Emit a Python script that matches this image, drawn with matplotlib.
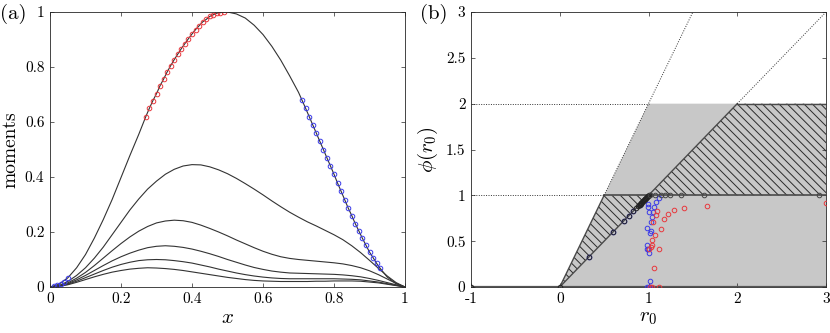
import numpy as np
import matplotlib
matplotlib.use("Agg")
import matplotlib.pyplot as plt
from matplotlib.patches import Polygon
from matplotlib.ticker import FuncFormatter

plt.rcParams['font.family'] = ['cmr10', 'DejaVu Serif']
plt.rcParams['mathtext.fontset'] = 'cm'
plt.rcParams['axes.formatter.use_mathtext'] = True
plt.rcParams['hatch.linewidth'] = 0.7

# ---- panel (a) data ----
red_x = np.round(np.arange(0.27, 0.495, 0.01), 2)
red_y = [0.62, 0.65, 0.678, 0.703, 0.732, 0.756, 0.782, 0.805, 0.827, 0.847, 0.867,
         0.885, 0.903, 0.92, 0.936, 0.95, 0.964, 0.973, 0.984, 0.99, 0.996, 0.998, 1.0]
blue_x = np.round(np.arange(0.71, 0.935, 0.01), 2)
blue_y = [0.679, 0.65, 0.62, 0.59, 0.56, 0.53, 0.50, 0.47, 0.44, 0.41, 0.378, 0.348,
          0.318, 0.287, 0.26, 0.23, 0.204, 0.177, 0.152, 0.127, 0.107, 0.086, 0.068]
blue0_x = [0.01, 0.02, 0.03, 0.04, 0.05]
blue0_y = [0.002, 0.006, 0.012, 0.02, 0.033]

top_left_x = [0, 0.025, 0.05, 0.075, 0.1, 0.125, 0.15, 0.175, 0.2, 0.225, 0.25]
top_left_y = [0, 0.01, 0.033, 0.07, 0.118, 0.178, 0.245, 0.318, 0.398, 0.478, 0.555]
top_mid_x = [0.5, 0.525, 0.55, 0.575, 0.6, 0.625, 0.65, 0.675, 0.7]
top_mid_y = [1.0, 0.993, 0.978, 0.952, 0.918, 0.875, 0.825, 0.768, 0.708]
top_end_x = [0.95, 0.975, 1.0]
top_end_y = [0.036, 0.012, 0.0]

xs = np.round(np.arange(0, 1.0001, 0.025), 3)
m2 = [0, 0.005, 0.02, 0.042, 0.07, 0.105, 0.145, 0.19, 0.235, 0.28, 0.32, 0.356, 0.385,
      0.41, 0.428, 0.44, 0.445, 0.444, 0.437, 0.426, 0.412, 0.395, 0.376, 0.356, 0.335,
      0.313, 0.292, 0.272, 0.254, 0.237, 0.222, 0.206, 0.19, 0.172, 0.15, 0.125, 0.097,
      0.068, 0.04, 0.016, 0]
m3 = [0, 0.004, 0.015, 0.032, 0.053, 0.078, 0.105, 0.132, 0.158, 0.182, 0.203, 0.22, 0.233,
      0.24, 0.243, 0.241, 0.235, 0.225, 0.213, 0.2, 0.186, 0.171, 0.157, 0.143, 0.13,
      0.119, 0.11, 0.104, 0.1, 0.097, 0.094, 0.091, 0.088, 0.084, 0.078, 0.07, 0.059,
      0.045, 0.029, 0.013, 0]
m4 = [0, 0.003, 0.012, 0.026, 0.042, 0.06, 0.078, 0.095, 0.11, 0.123, 0.134, 0.143, 0.148,
      0.15, 0.148, 0.144, 0.138, 0.13, 0.121, 0.111, 0.1, 0.09, 0.08, 0.071, 0.064,
      0.058, 0.054, 0.051, 0.05, 0.049, 0.048, 0.047, 0.046, 0.044, 0.041, 0.037, 0.031,
      0.024, 0.016, 0.008, 0]
m5 = [0, 0.003, 0.01, 0.021, 0.034, 0.047, 0.06, 0.072, 0.082, 0.09, 0.096, 0.099, 0.1,
      0.099, 0.096, 0.092, 0.087, 0.08, 0.073, 0.065, 0.058, 0.051, 0.045, 0.04, 0.036,
      0.033, 0.031, 0.03, 0.03, 0.03, 0.03, 0.03, 0.03, 0.029, 0.028, 0.026, 0.022,
      0.018, 0.012, 0.006, 0]
m6 = [0, 0.002, 0.008, 0.017, 0.027, 0.037, 0.046, 0.054, 0.06, 0.065, 0.068, 0.07, 0.069,
      0.067, 0.064, 0.06, 0.055, 0.05, 0.045, 0.04, 0.035, 0.031, 0.027, 0.024, 0.022,
      0.021, 0.02, 0.02, 0.02, 0.02, 0.021, 0.021, 0.022, 0.022, 0.022, 0.021, 0.018,
      0.015, 0.01, 0.005, 0]

# ---- panel (b) data ----
blk_x = [-1, 0, 0.33, 0.6, 0.72, 0.78, 0.83, 0.86, 0.88, 0.89, 0.9, 0.905, 0.91, 0.915,
         0.92, 0.925, 0.93, 0.935, 0.94, 0.945, 0.95, 0.955, 0.96, 0.965, 0.97, 0.975,
         0.98, 0.985, 0.99, 0.995, 1.0]
blk_y = [0, 0] + blk_x[2:]
blk1_x = [1.02, 1.07, 1.14, 1.19, 1.24, 1.37, 1.62, 2.92]
blk1_y = [1.0, 1.0, 1.0, 1.0, 1.0, 1.0, 1.0, 1.0]
bl_x = [0.33, 0.6, 0.72, 0.78, 0.83, 0.9, 1.115, 1.09, 1.065, 1.054, 1.043, 1.017, 1.028,
        0.998, 1.006, 0.99, 0.98, 1.028, 0.987, 0.998, 0.98, 1.01, 1.017, 0.98, 1.0, 1.02]
bl_y = [0.33, 0.6, 0.72, 0.78, 0.83, 0.9, 0.974, 0.93, 0.876, 0.82, 0.767, 0.585, 0.71,
        0.876, 0.82, 0.91, 0.647, 0.614, 0.46, 0.42, 0.41, 0.375, 0.07, 0.0, 0.0, 0.0]
rd_x = [2.996, 1.663, 1.4, 1.285, 1.215, 1.173, 1.095, 1.085, 1.054, 1.14, 1.07, 1.043,
        1.028, 1.01, 1.12, 1.062, 1.036, 1.017, 1.043, 1.118]
rd_y = [0.913, 0.887, 0.865, 0.84, 0.8, 0.74, 0.826, 0.785, 0.71, 0.637, 0.571, 0.513,
        0.433, 0.42, 0.418, 0.21, 0.458, 0.005, 0.005, 0.005]

fig = plt.figure(figsize=(8.3, 3.33), dpi=100)
axa = fig.add_axes([50/830, 1-287/333, 355/830, 275/333])
axb = fig.add_axes([471/830, 1-287/333, 355/830, 275/333])

lc = '#333333'
for m in [m2, m3, m4, m5, m6]:
    axa.plot(xs, m, color=lc, lw=0.8)
top_x = np.concatenate([top_left_x, red_x, top_mid_x, blue_x, top_end_x])
top_y = np.concatenate([top_left_y, red_y, top_mid_y, blue_y, top_end_y])
axa.plot(top_x, top_y, color=lc, lw=0.8)
mk = dict(ls='none', marker='o', ms=3.3, mfc='none', mew=0.7)
axa.plot(red_x, red_y, mec='#e8383d', **mk)
axa.plot(blue_x, blue_y, mec='#3a3ae8', **mk)
axa.plot(blue0_x, blue0_y, mec='#3a3ae8', **mk)
axa.set_xlim(0, 1)
axa.set_ylim(0, 1)
axa.set_xticks([0, 0.2, 0.4, 0.6, 0.8, 1])
axa.set_yticks([0, 0.2, 0.4, 0.6, 0.8, 1])
axa.set_xlabel('$x$', fontsize=15, labelpad=2)
axa.set_ylabel('moments', fontsize=14, labelpad=4)

# panel (b)
grey = '#c8c8c8'
hatch = '\\' * 4
axb.add_patch(Polygon([(0, 0), (1, 2), (3, 2), (3, 0)], closed=True, fc=grey, ec='none', zorder=1))
axb.add_patch(Polygon([(0, 0), (0.5, 1), (1, 1)], closed=True, fc='none', ec='#2a2a2a',
                      lw=0, hatch=hatch, zorder=2))
axb.add_patch(Polygon([(1, 1), (2, 2), (3, 2), (3, 1)], closed=True, fc='none', ec='#2a2a2a',
                      lw=0, hatch=hatch, zorder=2))
sc = '#4a4a4a'
axb.plot([0, 0.5], [0, 1], color=sc, lw=1.0, zorder=3)
axb.plot([0, 2], [0, 2], color=sc, lw=1.0, zorder=3)
axb.plot([0.5, 3], [1, 1], color=sc, lw=1.2, zorder=3)
axb.plot([2, 3], [2, 2], color=sc, lw=1.0, zorder=3)
axb.plot([-1, 3], [0, 0], color='#555555', lw=1.6, zorder=3)
dc = '#333333'
axb.plot([-1, 0.5], [1, 1], color=dc, lw=0.7, ls=(0, (1, 1.5)), zorder=3)
axb.plot([-1, 1], [2, 2], color=dc, lw=0.7, ls=(0, (1, 1.5)), zorder=3)
axb.plot([0.5, 1.5], [1, 3], color=dc, lw=0.7, ls=(0, (1, 1.5)), zorder=3)
axb.plot([2, 3], [2, 3], color=dc, lw=0.7, ls=(0, (1, 1.5)), zorder=3)
axb.plot(bl_x, bl_y, mec='#3a3ae8', zorder=4, **mk)
axb.plot(rd_x, rd_y, mec='#e8383d', zorder=4, **mk)
axb.plot(blk_x, blk_y, mec='#222222', zorder=5, **mk)
axb.plot(blk1_x, blk1_y, mec='#444444', zorder=5, **mk)
axb.set_xlim(-1, 3)
axb.set_ylim(0, 3)
axb.set_xticks([-1, 0, 1, 2, 3])
axb.set_yticks([0, 0.5, 1, 1.5, 2, 2.5, 3])
axb.set_xlabel('$r_0$', fontsize=15, labelpad=2)
axb.set_ylabel(r'$\phi(r_0)$', fontsize=15, labelpad=4)

fmt = FuncFormatter(lambda v, p: '%g' % v)
for ax in [axa, axb]:
    ax.xaxis.set_major_formatter(fmt)
    ax.yaxis.set_major_formatter(fmt)
    ax.tick_params(direction='in', top=True, right=True, length=3, width=0.5,
                   labelsize=11, colors='#262626', labelcolor='black', pad=4)
    for s in ax.spines.values():
        s.set_linewidth(0.6)
        s.set_color('#262626')

fig.text(0.0, 1-14/333, '(a)', fontsize=15, va='center', ha='left')
fig.text(420/830, 1-14/333, '(b)', fontsize=15, va='center', ha='left')

fig.savefig('out.png', dpi=100)
